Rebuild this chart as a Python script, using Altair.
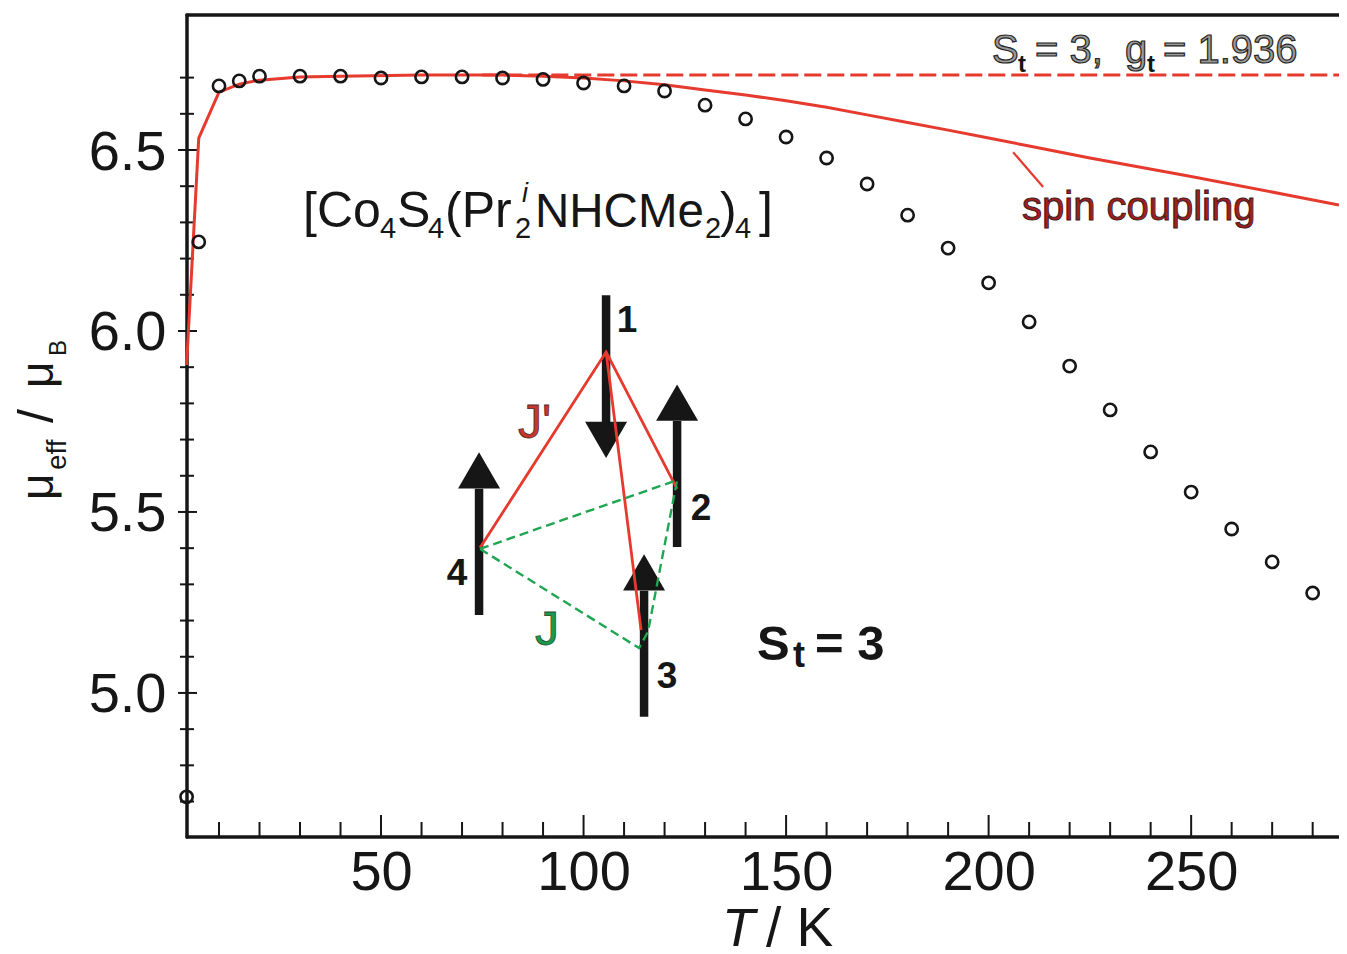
import altair as alt
import pandas as pd

# measured susceptibility data (T / K, mu_eff / mu_B)
T_points = [2, 5, 10, 15, 20, 30, 40, 50, 60, 70, 80, 90, 100, 110, 120, 130, 140, 150,
            160, 170, 180, 190, 200, 210, 220, 230, 240, 250, 260, 270, 280]
mu_points = [4.713, 6.246, 6.677, 6.691, 6.704, 6.704, 6.704, 6.699, 6.702, 6.702, 6.699,
             6.695, 6.685, 6.677, 6.663, 6.624, 6.586, 6.536, 6.478, 6.406, 6.320, 6.229,
             6.133, 6.025, 5.903, 5.782, 5.666, 5.555, 5.453, 5.362, 5.276]
# spin coupling curve
T_curve = [2, 5, 10, 15, 20, 30, 40, 60, 80, 90, 100, 110, 120, 130, 140, 150, 160, 170, 180, 190,
           200, 210, 225, 250, 275, 286.5]
mu_curve = [5.906, 6.533, 6.660, 6.682, 6.693, 6.702, 6.704, 6.707, 6.707, 6.704, 6.699, 6.691, 6.680,
            6.666, 6.652, 6.636, 6.618, 6.597, 6.576, 6.555, 6.533, 6.511, 6.478, 6.427, 6.373, 6.348]
# S_t = 3 limit
T_limit = [75, 286.5]
mu_limit = [6.707, 6.707]
# pointer to the curve
T_pointer = [206.05, 213.46]
mu_pointer = [6.494, 6.398]

# spin arrows drawn inside the plot
arrow_T = [105.56, 123.09, 114.94, 74.20]
arrow_tail = [6.099, 5.403, 4.934, 5.215]
arrow_base = [5.740, 5.751, 5.282, 5.564]
head_mid = [5.699, 5.802, 5.333, 5.615]
head_shape = ["triangle-down", "triangle-up", "triangle-up", "triangle-up"]
# J' (red) and J (green) exchange paths
red_T = [74.44, 105.56, 123.09, 105.56, 114.2]
red_mu = [5.401, 5.942, 5.564, 5.942, 5.174]
green_T = [74.44, 123.09, 115.9, 113.7, 74.44]
green_mu = [5.398, 5.588, 5.169, 5.124, 5.398]

x_major = [50, 100, 150, 200, 250]
x_minor = [10, 20, 30, 40, 60, 70, 80, 90, 110, 120, 130, 140, 160, 170, 180, 190, 210,
           220, 230, 240, 260, 270, 280]
y_major = [5.0, 5.5, 6.0, 6.5]
y_minor = [4.7, 4.8, 4.9, 5.1, 5.2, 5.3, 5.4, 5.6, 5.7, 5.8, 5.9, 6.1, 6.2, 6.3, 6.4, 6.6, 6.7]

LEFT, TOP = 187, 15
W, H = 1152, 822
INK = "#161616"
RED = "#e63a2e"
GREEN = "#1fa651"
FONT = "Liberation Sans"

xs = alt.Scale(domain=[2.1, 286.5], nice=False, zero=False)
ys = alt.Scale(domain=[4.602, 6.873], nice=False, zero=False)
x_axis = alt.Axis(values=x_major, title=None, ticks=False, domain=False, grid=False, labelFont=FONT,
                  labelFontSize=56, labelColor=INK, labelPadding=8, labelFlush=False)
y_axis = alt.Axis(values=y_major, title=None, ticks=False, domain=False, grid=False, labelFont=FONT,
                  labelFontSize=56, labelColor=INK, labelPadding=21, labelOffset=2, format=".1f")
X = alt.X("T:Q", scale=xs, axis=x_axis)
Y = alt.Y("mu:Q", scale=ys, axis=y_axis)


def line_layer(t, m, color, width, dash=None):
    kw = {"strokeDash": dash} if dash else {}
    return alt.Chart(pd.DataFrame({"T": t, "mu": m, "i": range(len(t))})).mark_line(
        color=color, strokeWidth=width, clip=False, **kw
    ).encode(x=X, y=Y, order="i:Q")


def label(text, px, py, size, color=INK, weight="normal", style="normal", angle=0,
          align="left", stroke=None, sw=0):
    kw = dict(font=FONT, fontSize=size, color=color, fontWeight=weight, fontStyle=style,
              align=align, baseline="alphabetic")
    if angle:
        kw["angle"] = angle
    if stroke:
        kw["stroke"] = stroke
        kw["strokeWidth"] = sw
    return alt.Chart(pd.DataFrame({"s": [text]})).mark_text(**kw).encode(
        text="s:N", x=alt.value(px - LEFT), y=alt.value(py - TOP)
    )


layers = []

# ticks
for vals, a, b in [(y_major, -9, 10), (y_minor, -7, 7)]:
    layers.append(alt.Chart(pd.DataFrame({"mu": vals})).mark_rule(color=INK, strokeWidth=2).encode(
        y=Y, x=alt.value(a), x2=alt.value(b)))
for vals, h in [(x_major, 22), (x_minor, 15)]:
    layers.append(alt.Chart(pd.DataFrame({"T": vals})).mark_rule(color=INK, strokeWidth=2).encode(
        x=X, y=alt.value(H), y2=alt.value(H - h)))

# frame: left, bottom, top
one = pd.DataFrame({"a": [0]})
for enc in [dict(x=alt.value(0), y=alt.value(0), y2=alt.value(H)),
            dict(x=alt.value(0), x2=alt.value(W), y=alt.value(H)),
            dict(x=alt.value(0), x2=alt.value(W), y=alt.value(0))]:
    layers.append(alt.Chart(one).mark_rule(color=INK, strokeWidth=3.5, strokeCap="round").encode(**enc))

# curves
layers.append(line_layer(T_limit, mu_limit, RED, 3, [17, 6]))
layers.append(line_layer(T_curve, mu_curve, RED, 3))
layers.append(line_layer(T_pointer, mu_pointer, RED, 2.2))

# data points
layers.append(alt.Chart(pd.DataFrame({"T": T_points, "mu": mu_points})).mark_point(
    filled=False, size=150, strokeWidth=2.6, color=INK, opacity=1, clip=False).encode(x=X, y=Y))

# spin arrows
arrows = pd.DataFrame({"T": arrow_T, "mu": arrow_tail, "mu2": arrow_base, "mid": head_mid, "shape": head_shape})
layers.append(alt.Chart(arrows).mark_rule(color=INK, strokeWidth=8.5).encode(
    x=X, y=Y, y2="mu2:Q"))
for shape in ["triangle-up", "triangle-down"]:
    layers.append(alt.Chart(arrows[arrows["shape"] == shape]).mark_point(
        shape=shape, filled=True, size=1764, color=INK, opacity=1).encode(
        x=X, y=alt.Y("mid:Q", scale=ys, axis=y_axis)))

# exchange paths
layers.append(line_layer(red_T, red_mu, RED, 2.8))
layers.append(line_layer(green_T, green_mu, GREEN, 2.4, [9, 5]))

# x title
layers += [label("T", 722, 946, 54, style="italic"), label("/ K", 766, 946, 55)]

# y title
layers += [
    label("μ", 53, 500, 46, angle=270), label("eff", 66, 470, 28, angle=270),
    label("/", 53, 423, 50, angle=270),
    label("μ", 53, 388, 46, angle=270), label("B", 66, 356, 24, angle=270),
]

# formula
layers += [
    label("[Co", 303, 227, 50), label("4", 380, 238, 29), label("S", 397, 227, 50),
    label("4", 428, 238, 29), label("(Pr", 445, 227, 50), label("i", 522, 202, 27, style="italic"),
    label("2", 515, 238, 29), label("NHCMe", 535, 227, 47.5), label("2", 705, 238, 29),
    label(")", 720, 227, 50), label("4", 735, 238, 29), label("]", 759, 227, 50),
]

# S_t = 3
layers += [label("S", 757, 660, 49, weight="bold"), label("t", 793, 667, 36, weight="bold"),
           label("= 3", 815, 660, 49, weight="bold")]

# spin numbers
layers += [label("1", 627, 332, 37, weight="bold", align="center"),
           label("2", 701, 520, 37, weight="bold", align="center"),
           label("3", 667, 688, 37, weight="bold", align="center"),
           label("4", 457, 585, 37, weight="bold", align="center")]

# J labels
layers += [label("J'", 518, 438, 48, color="#c8372a", stroke="#5a2a25", sw=0.8),
           label("J", 535, 645, 48, color="#1c9a4a", stroke="#24503a", sw=0.8)]

# outlined annotations
layers += [
    label("S", 992, 63, 40, color="#9a9a9a", stroke="#262626", sw=1.2),
    label("t", 1018, 72, 24, weight="bold"),
    label("= 3,", 1035, 63, 40, color="#9a9a9a", stroke="#262626", sw=1.2),
    label("g", 1125, 63, 40, color="#9a9a9a", stroke="#262626", sw=1.2),
    label("t", 1147, 72, 24, weight="bold"),
    label("= 1.936", 1163, 63, 40, color="#9a9a9a", stroke="#262626", sw=1.2),
    label("spin coupling", 1022, 220, 40, color="#a81c1c", stroke="#3a2020", sw=1),
]

chart = alt.layer(*layers).properties(
    width=W, height=H,
    padding={"left": LEFT - 8, "top": TOP - 8, "right": 0, "bottom": 112},
    autosize=alt.AutoSizeParams(type="none"),
    background="white",
).configure_view(stroke=None)

chart.save("out.html", embed_options={"renderer": "svg", "actions": False})
